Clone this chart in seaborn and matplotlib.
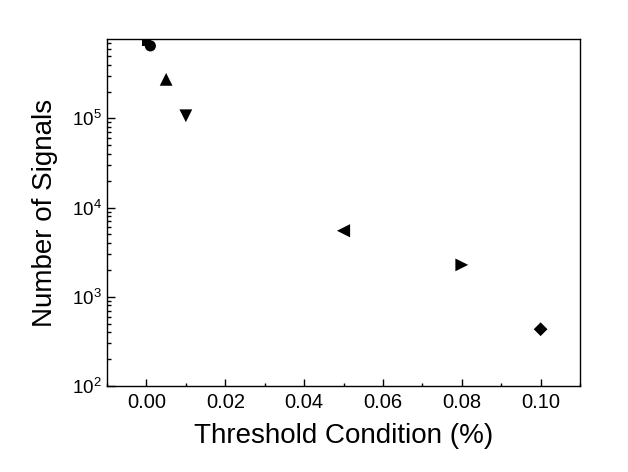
import matplotlib
matplotlib.use("Agg")
import matplotlib.pyplot as plt
import seaborn as sns
import pandas as pd
import numpy as np
from matplotlib.ticker import MultipleLocator, LogLocator, FormatStrFormatter

# Data
conditions = ["0.000", "0.001", "0.005", "0.010", "0.050", "0.080", "0.100"]
threshold = [0.0, 0.001, 0.005, 0.01, 0.05, 0.08, 0.10]
signals = [7.4e5, 6.5e5, 2.74e5, 1.07e5, 5.5e3, 2.28e3, 433]
marker_shapes = ["s", "o", "^", "v", "<", ">", "D"]
marker_sizes = [49, 64, 85, 85, 90, 85, 49]

sns.set_style("ticks")
plt.rcParams["font.family"] = ["Liberation Sans", "DejaVu Sans"]
plt.rcParams["mathtext.default"] = "regular"
for k in ["text.color", "axes.labelcolor", "xtick.color", "ytick.color", "axes.edgecolor"]:
    plt.rcParams[k] = "black"

df = pd.DataFrame({"cond": conditions, "x": threshold, "y": signals})

fig = plt.figure(figsize=(6.28, 4.72), dpi=100)
ax = fig.add_axes([0.1704, 0.1822, 0.7532, 0.7345])

sns.scatterplot(
    data=df, x="x", y="y", style="cond", size="cond",
    markers=dict(zip(conditions, marker_shapes)),
    sizes=dict(zip(conditions, marker_sizes)),
    color="black", edgecolor="black", linewidth=0,
    legend=False, ax=ax, zorder=3,
)

ax.set_yscale("log")
ax.set_xlim(-0.01, 0.11)
ax.set_ylim(100, 7.7e5)

ax.xaxis.set_major_locator(MultipleLocator(0.02))
ax.xaxis.set_minor_locator(MultipleLocator(0.01))
ax.xaxis.set_major_formatter(FormatStrFormatter("%.2f"))
ax.yaxis.set_major_locator(LogLocator(base=10, numticks=10))
ax.yaxis.set_minor_locator(LogLocator(base=10, subs=np.arange(2, 10), numticks=20))

for s in ax.spines.values():
    s.set_visible(True)
    s.set_linewidth(1.0)
    s.set_color("black")

ax.tick_params(axis="both", which="both", direction="in", top=False, right=False,
               color="black", labelcolor="black")
ax.tick_params(axis="x", which="major", length=5, width=1, labelsize=14.5, pad=5)
ax.tick_params(axis="x", which="minor", length=2.5, width=1)
ax.tick_params(axis="y", which="major", length=5.5, width=1, labelsize=13.5, pad=4)
ax.tick_params(axis="y", which="minor", length=3, width=1)

ax.set_xlabel("Threshold Condition (%)", fontsize=20, labelpad=8, color="black")
ax.set_ylabel("Number of Signals", fontsize=20, labelpad=10, color="black")

fig.savefig("out.png", dpi=100)
